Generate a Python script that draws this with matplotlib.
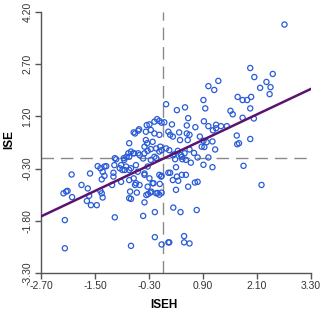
import matplotlib
matplotlib.use("Agg")
import matplotlib.pyplot as plt
import numpy as np

plt.rcParams['font.family'] = ['Liberation Sans', 'DejaVu Sans']

# data (ISEH, ISE)
iseh = [
    2.71, 1.95, 2.04, 2.45, 2.31, 2.40, 2.17, 2.38, 1.67, 1.78, 1.88, 1.97, 1.95, 1.51, 1.56, 1.78, 2.03,
    1.30, 1.43, 1.65, 1.95, 1.66, 1.70, 1.80, 2.20,
    1.24, 1.02, 1.15, 0.91, 0.08, 0.32, 0.50, 0.95, 0.57, 0.92, -0.02, 0.21, 0.54, 0.73, 1.02, 1.19,
    0.13, 0.17, 0.23, 0.37, 0.54, 0.60, 0.39, 0.56, 0.83, 0.91, 0.98, 1.11, 0.87, 0.93, 1.17, 1.02,
    0.43, -0.02, 0.23, 1.19, 1.12,
    -0.29, -0.18, -0.12, -0.07, 0.04, -0.52, -0.74, -0.61, -0.54, -0.35, -1.06, -0.86, -0.76,
    -0.64, -0.37, -0.26, -0.18, -0.07, -0.37, -0.34, -0.22, -0.14, -0.05, -0.40,
    -0.70, -0.63, -0.51, -0.40, -0.33, -0.26, -0.18, -0.07,
    -0.59, -0.70, -0.55, -0.40, -0.33, -0.26, -0.14,
    -0.64, -0.59, -0.51, -0.40, -0.29, -0.33, -0.22, -0.07, -0.03,
    0.08, 0.15, 0.26, 0.34, 0.41, 0.49, 0.60, 0.70, 0.78,
    0.13, 0.17, 0.30, 0.23, 0.35, 0.32, 0.43, 0.52, 0.57, 0.72, 0.78, 0.30, 0.28, 0.44, 0.52, 0.63,
    0.91, 1.11, -0.02, -0.02, -0.06, 0.24, 0.40, 0.76, -0.02, 0.13, 0.15, 0.48, 0.48, 0.60,
    -0.43, -0.17, -0.17, -0.70, -0.40, -0.57, -0.32, -0.27, -0.07, -0.11, -2.17, -2.17, -1.06,
    -0.74, -0.72, -2.14, -2.20, -2.11, -2.01, -1.80, -1.66, -1.63, -1.68, -1.59, -1.46, -1.38,
    -1.35, -1.33, -1.12,
    -2.02, -1.61, -1.44, -1.38, -1.29, -1.33, -1.29, -1.35, -1.07, -1.09, -1.09, -0.92, -0.89,
    -0.92, -1.03, -0.85, -0.74, -0.81, -0.74, -1.25, -0.74, -0.61, -0.70, -0.36, -0.25, -0.20,
    -0.14, -0.80, -0.65, -0.54, -0.43, -0.95, -0.84,
]
ise = [
    3.84, 2.59, 2.33, 2.42, 2.19, 2.04, 2.02, 1.84, 1.76, 1.67, 1.67, 1.76, 1.43, 1.36, 1.26, 1.16, 1.14,
    0.92, 0.92, 0.65, 0.55, 0.40, 0.43, -0.22, -0.77,
    2.22, 2.07, 1.96, 1.67, 1.55, 1.38, 1.46, 1.43, 1.15, 1.06, 1.02, 0.97, 0.94, 0.89, 0.92, 0.96,
    0.76, 0.67, 0.62, 0.74, 0.71, 0.67, 0.52, 0.52, 0.62, 0.50, 0.46, 0.48, 0.33, 0.32, 0.25, 0.02,
    0.04, 0.23, 0.08, 0.86, 0.80,
    0.97, 1.05, 1.12, 1.07, 1.03, 0.83, 0.43, 0.71, 0.79, 0.95, 0.00, 0.00, 0.14,
    0.74, 0.76, 0.81, 0.71, 0.67, 0.52, 0.43, 0.47, 0.28, 0.33, 0.33,
    0.19, 0.14, 0.09, 0.14, 0.21, 0.26, 0.04, 0.19,
    -0.20, -0.29, -0.39, -0.44, -0.24, -0.05, 0.00,
    -0.58, -0.72, -0.77, -0.48, -0.58, -0.82, -0.72, -0.48, -0.53,
    0.28, 0.23, 0.11, 0.21, 0.09, 0.14, 0.25, 0.15, 0.02,
    -0.42, -0.42, -0.26, -0.63, -0.65, -0.53, -0.48, -0.48, -0.82, -0.70, -0.68, -0.91, -0.03, -0.03, -0.05, -0.13,
    -0.19, -0.26, -0.51, -0.99, -0.74, -1.42, -1.55, -1.49, -2.48, -2.42, -2.42, -2.24, -2.42, -2.45,
    -1.66, -1.55, -2.27, -2.52, -1.27, -0.99, -1.03, -0.99, -1.05, -1.00, -1.78, -2.59, -1.70,
    -1.15, -0.96, -0.96, -1.01, -0.94, -1.12, -0.77, -0.87, -1.08, -1.23, -1.35, -1.35, -0.94,
    -1.01, -1.13, -0.77,
    -0.47, -0.44, -0.23, -0.29, -0.24, -0.39, -0.51, -0.61, -0.20, -0.42, -0.53, -0.20, -0.34,
    -0.68, -0.03, -0.05, 0.04, -0.24, -0.34, -0.23, -0.63, -0.77, -1.17, -1.06, -0.96, -0.72,
    -1.01, 0.04, 0.14, 0.14, -0.01, -0.29, -0.34,
]

x_ticks = [-2.70, -1.50, -0.30, 0.90, 2.10, 3.30]
y_ticks = [-3.30, -1.80, -0.30, 1.20, 2.70, 4.20]
x_ref, y_ref = 0.0, 0.0

x = np.array(iseh)
y = np.array(ise)
slope, intercept = np.polyfit(x, y, 1)

fig = plt.figure(figsize=(3.21, 3.12), dpi=100)
ax = fig.add_axes([41/321, 1-273/312, 270/321, 261/312])

ax.axvline(x_ref, color='#8a8a8a', lw=1.0, ls=(0, (9, 5)), zorder=1)
ax.axhline(y_ref, color='#8a8a8a', lw=1.0, ls=(0, (9, 5)), zorder=1)

ax.scatter(x, y, s=14, facecolors='none', edgecolors='#2a5bd7', linewidths=0.9, zorder=2)

xl = np.array([x_ticks[0], x_ticks[-1]])
ax.plot(xl, slope * xl + intercept, color='#5a1470', lw=1.8, zorder=3)

ax.set_xlim(x_ticks[0], x_ticks[-1])
ax.set_ylim(y_ticks[0], y_ticks[-1])
ax.set_xticks(x_ticks)
ax.set_yticks(y_ticks)
ax.set_xticklabels([f"{v:.2f}" for v in x_ticks])
ax.set_yticklabels([f"{v:.2f}" for v in y_ticks], rotation=90, va='center')

for s in ['top', 'right']:
    ax.spines[s].set_visible(False)
for s in ['left', 'bottom']:
    ax.spines[s].set_color('#555555')
    ax.spines[s].set_linewidth(1.0)
ax.tick_params(direction='out', length=4, width=1, colors='#555555', labelcolor='#333333', labelsize=7.5, pad=2)

ax.set_xlabel('ISEH', fontsize=8.5, fontweight='bold')
ax.set_ylabel('ISE', fontsize=8.5, fontweight='bold')
ax.xaxis.set_label_coords(0.455, -0.098)
ax.yaxis.set_label_coords(-0.095, 0.51)

fig.savefig('out.png', dpi=100)
